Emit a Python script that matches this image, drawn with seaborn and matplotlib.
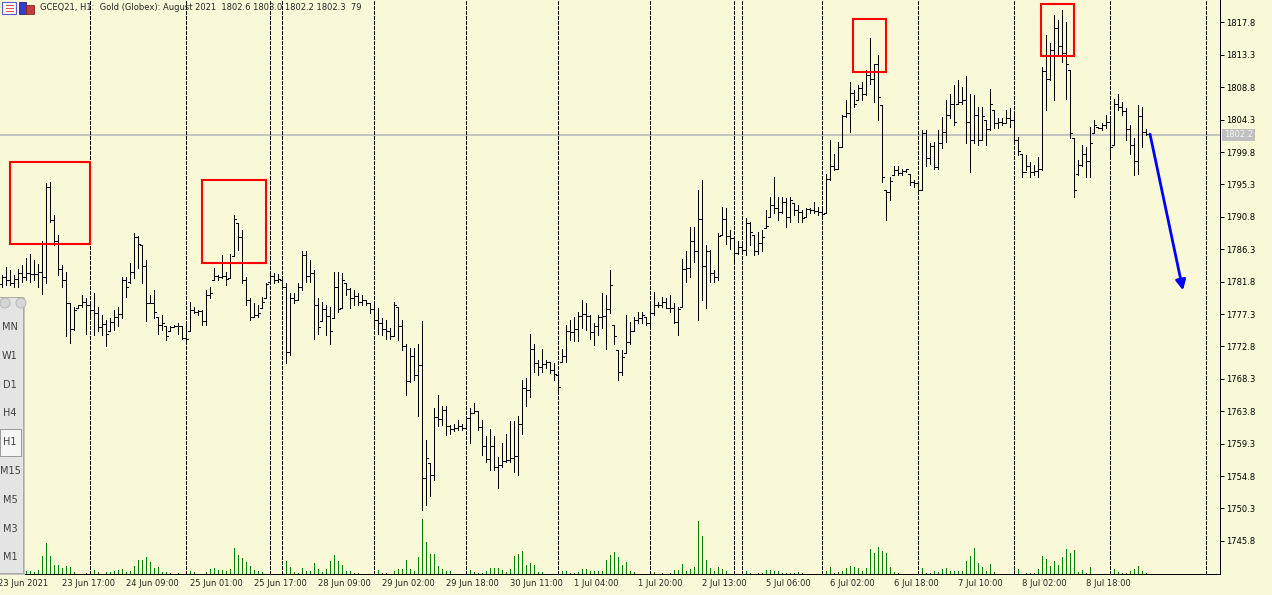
import numpy as np
import matplotlib
matplotlib.use("Agg")
import matplotlib.pyplot as plt
from matplotlib.patches import Rectangle, Ellipse
import seaborn as sns

# ---- GCEQ21 H1 bars, 23 Jun - 8 Jul 2021 ----
highs = [
    1782.7, 1783.9, 1783.4, 1782.7, 1783.5, 1784.1, 1785.1, 1785.7, 1784.8, 1784.3,
    1787.5, 1795.5, 1795.6, 1791.1, 1788.3, 1784.1, 1783.2, 1778.8, 1778.3, 1778.6,
    1780.0, 1779.5, 1779.0, 1780.2, 1778.3, 1777.2, 1776.5, 1776.7, 1777.9, 1778.3,
    1782.5, 1782.5, 1784.4, 1788.5, 1788.2, 1786.9, 1784.8, 1780.0, 1780.7, 1776.9,
    1777.2, 1775.6, 1775.6, 1775.8, 1776.0, 1775.6, 1776.0, 1779.0, 1778.3, 1777.9,
    1777.9, 1780.7, 1781.1, 1783.7, 1782.7, 1785.5, 1783.2, 1785.7, 1791.1, 1789.9,
    1789.0, 1782.5, 1779.5, 1778.8, 1778.6, 1779.7, 1781.6, 1783.0, 1783.0, 1782.9,
    1782.0, 1781.6, 1780.2, 1780.2, 1781.6, 1786.0, 1786.0, 1784.8, 1783.4, 1779.5,
    1779.0, 1778.6, 1778.3, 1783.2, 1783.2, 1783.0, 1781.6, 1780.9, 1780.7, 1780.2,
    1780.0, 1779.3, 1778.8, 1778.6, 1778.1, 1776.7, 1776.5, 1775.3, 1779.0, 1778.3,
    1776.5, 1773.2, 1772.6, 1772.6, 1773.2, 1776.3, 1759.8, 1756.6, 1764.2, 1766.1,
    1764.5, 1764.5, 1761.9, 1762.1, 1762.6, 1762.1, 1763.1, 1764.2, 1764.9, 1763.8,
    1762.6, 1760.3, 1761.4, 1760.3, 1757.5, 1759.4, 1760.7, 1762.4, 1762.4, 1763.1,
    1768.2, 1768.4, 1774.6, 1773.2, 1770.9, 1772.4, 1770.9, 1770.7, 1770.5, 1768.8,
    1772.5, 1775.8, 1776.5, 1776.9, 1777.6, 1779.3, 1778.8, 1777.2, 1776.0, 1777.2,
    1780.2, 1779.9, 1783.4, 1775.8, 1772.3, 1772.3, 1777.2, 1776.2, 1776.9, 1777.6,
    1777.6, 1776.9, 1779.0, 1780.4, 1779.0, 1779.7, 1779.5, 1780.0, 1778.8, 1778.3,
    1785.0, 1786.0, 1789.4, 1789.4, 1794.5, 1795.9, 1786.9, 1786.2, 1783.4, 1788.5,
    1792.2, 1792.0, 1789.0, 1787.8, 1787.4, 1786.9, 1790.6, 1790.1, 1788.3, 1788.7,
    1789.0, 1791.7, 1793.6, 1796.4, 1793.6, 1793.6, 1793.4, 1793.6, 1792.7, 1792.4,
    1791.7, 1792.0, 1792.0, 1792.9, 1792.2, 1792.0, 1796.8, 1801.5, 1799.6, 1801.2,
    1804.9, 1807.0, 1809.6, 1808.4, 1809.1, 1809.6, 1811.2, 1815.6, 1812.1, 1813.3,
    1806.3, 1794.5, 1796.4, 1797.8, 1797.8, 1797.5, 1797.5, 1796.8, 1795.9, 1795.7,
    1802.8, 1802.8, 1801.0, 1801.2, 1802.8, 1804.7, 1807.0, 1807.9, 1809.1, 1809.8,
    1808.9, 1810.3, 1807.9, 1807.7, 1806.1, 1806.1, 1804.2, 1808.6, 1805.6, 1804.5,
    1804.5, 1805.6, 1805.9, 1805.2, 1801.9, 1799.6, 1799.4, 1798.4, 1798.0, 1799.1,
    1811.6, 1816.0, 1814.9, 1818.8, 1818.1, 1819.5, 1817.9, 1811.2, 1801.7, 1798.7,
    1800.8, 1800.5, 1803.3, 1804.2, 1803.3, 1803.8, 1804.9, 1804.7, 1807.2, 1807.9,
    1806.8, 1805.9, 1803.5, 1801.7, 1806.3, 1806.1, 1803.0,
]
lows = [
    1781.1, 1781.4, 1781.4, 1781.0, 1781.1, 1781.8, 1782.0, 1781.8, 1782.0, 1781.0,
    1780.1, 1781.6, 1790.1, 1786.9, 1782.7, 1781.1, 1774.2, 1773.3, 1775.1, 1778.1,
    1778.3, 1774.6, 1776.9, 1774.4, 1774.9, 1774.4, 1772.8, 1774.9, 1775.1, 1775.6,
    1776.7, 1779.7, 1781.6, 1782.3, 1783.7, 1781.6, 1776.3, 1778.8, 1776.7, 1774.6,
    1775.1, 1773.7, 1774.9, 1775.5, 1774.6, 1773.9, 1773.5, 1774.9, 1777.4, 1777.2,
    1775.8, 1775.8, 1779.5, 1782.0, 1782.0, 1782.3, 1781.4, 1782.3, 1785.3, 1786.2,
    1781.6, 1778.6, 1776.5, 1776.9, 1776.9, 1778.1, 1779.5, 1781.8, 1781.6, 1781.8,
    1780.9, 1770.5, 1771.6, 1778.8, 1779.3, 1780.7, 1781.8, 1781.8, 1773.9, 1774.6,
    1776.3, 1774.4, 1773.2, 1776.7, 1777.6, 1778.1, 1780.0, 1778.1, 1778.6, 1778.6,
    1778.6, 1778.6, 1777.4, 1775.6, 1774.6, 1774.4, 1773.9, 1773.9, 1774.2, 1773.7,
    1772.3, 1766.1, 1767.9, 1768.2, 1763.1, 1750.1, 1750.8, 1752.0, 1754.3, 1761.7,
    1761.9, 1760.5, 1760.7, 1761.0, 1761.2, 1761.2, 1761.4, 1759.4, 1763.5, 1761.2,
    1757.7, 1756.8, 1755.7, 1755.7, 1753.1, 1756.1, 1756.8, 1756.8, 1755.4, 1755.0,
    1760.7, 1764.5, 1765.8, 1769.3, 1768.8, 1769.3, 1769.8, 1769.1, 1768.2, 1766.8,
    1770.7, 1770.7, 1773.7, 1773.5, 1773.5, 1775.3, 1775.1, 1773.9, 1773.0, 1774.4,
    1775.3, 1772.5, 1777.4, 1773.2, 1768.2, 1768.8, 1771.9, 1773.2, 1774.9, 1776.0,
    1776.0, 1775.8, 1775.8, 1777.2, 1778.3, 1778.3, 1778.1, 1777.6, 1776.0, 1774.4,
    1778.3, 1781.8, 1782.5, 1784.6, 1776.5, 1779.3, 1778.1, 1781.8, 1781.8, 1782.0,
    1788.3, 1787.1, 1786.4, 1784.8, 1785.7, 1786.0, 1785.5, 1786.9, 1785.5, 1785.7,
    1786.0, 1789.2, 1790.8, 1791.3, 1790.3, 1791.3, 1789.4, 1790.1, 1791.0, 1790.1,
    1790.1, 1790.8, 1791.3, 1791.3, 1791.0, 1790.8, 1791.3, 1795.9, 1797.3, 1797.5,
    1800.5, 1804.7, 1802.6, 1806.1, 1807.0, 1807.0, 1807.7, 1809.3, 1806.8, 1804.2,
    1795.7, 1790.3, 1793.1, 1796.6, 1796.6, 1796.6, 1797.1, 1795.2, 1795.0, 1794.3,
    1794.5, 1797.8, 1798.2, 1797.5, 1797.5, 1800.3, 1801.2, 1804.5, 1803.5, 1806.5,
    1806.5, 1801.0, 1797.1, 1801.0, 1800.8, 1801.5, 1800.8, 1802.8, 1803.1, 1803.1,
    1803.5, 1803.8, 1803.3, 1801.2, 1799.4, 1796.4, 1797.3, 1796.4, 1796.6, 1796.4,
    1797.3, 1805.6, 1809.8, 1807.0, 1813.3, 1812.3, 1807.2, 1801.7, 1793.6, 1796.6,
    1797.8, 1796.4, 1796.4, 1802.4, 1803.1, 1802.8, 1803.1, 1799.4, 1800.8, 1805.6,
    1804.9, 1801.5, 1799.6, 1796.6, 1796.8, 1800.5, 1802.2,
]
opens = [
    1781.5, 1782.4, 1782.0, 1781.6, 1782.2, 1783.0, 1782.4, 1783.0, 1782.9, 1782.9,
    1783.2, 1782.5, 1795.0, 1790.4, 1787.5, 1783.6, 1782.0, 1778.8, 1775.2, 1778.1,
    1778.5, 1779.0, 1778.6, 1777.9, 1777.5, 1775.5, 1775.9, 1774.9, 1776.2, 1776.9,
    1777.3, 1782.0, 1781.7, 1783.2, 1788.0, 1786.9, 1784.0, 1778.8, 1778.9, 1776.9,
    1775.8, 1775.6, 1774.9, 1775.5, 1775.6, 1775.6, 1774.0, 1775.0, 1777.8, 1777.6,
    1777.7, 1776.3, 1780.0, 1782.0, 1782.6, 1782.5, 1782.6, 1782.3, 1785.3, 1789.9,
    1788.0, 1782.0, 1779.3, 1776.9, 1777.2, 1778.1, 1779.5, 1781.8, 1782.6, 1782.0,
    1782.0, 1781.0, 1772.0, 1779.5, 1779.3, 1781.0, 1785.5, 1782.6, 1783.0, 1778.5,
    1776.3, 1778.0, 1777.0, 1776.7, 1781.0, 1778.1, 1781.6, 1780.8, 1779.5, 1779.8,
    1779.0, 1779.3, 1778.8, 1778.0, 1776.5, 1776.0, 1775.2, 1775.0, 1774.3, 1778.3,
    1775.6, 1772.9, 1768.0, 1771.5, 1768.9, 1770.2, 1754.6, 1756.6, 1755.0, 1763.0,
    1762.7, 1764.0, 1761.8, 1761.3, 1761.5, 1761.8, 1761.5, 1762.8, 1763.6, 1763.8,
    1761.6, 1759.0, 1757.2, 1759.0, 1756.0, 1756.3, 1756.9, 1757.0, 1757.3, 1757.6,
    1762.0, 1767.0, 1766.8, 1772.5, 1770.5, 1770.0, 1770.3, 1770.6, 1769.5, 1768.8,
    1770.7, 1771.5, 1775.0, 1774.8, 1775.2, 1777.0, 1777.3, 1777.0, 1774.8, 1775.6,
    1776.9, 1777.0, 1778.0, 1775.8, 1772.3, 1769.2, 1771.9, 1773.4, 1774.9, 1776.5,
    1776.8, 1776.9, 1776.0, 1777.5, 1778.6, 1778.5, 1779.0, 1778.2, 1778.2, 1776.2,
    1778.3, 1783.6, 1783.7, 1787.5, 1786.0, 1790.5, 1784.0, 1786.0, 1783.0, 1782.4,
    1788.3, 1790.5, 1788.2, 1787.8, 1785.8, 1786.6, 1786.2, 1790.0, 1788.3, 1786.0,
    1787.2, 1789.2, 1790.8, 1792.5, 1792.0, 1791.5, 1792.8, 1790.8, 1792.7, 1791.8,
    1791.5, 1790.8, 1791.9, 1791.7, 1791.6, 1791.5, 1791.3, 1796.0, 1797.8, 1797.5,
    1800.5, 1804.8, 1805.2, 1808.0, 1807.0, 1808.7, 1807.8, 1810.5, 1810.0, 1812.0,
    1806.3, 1794.5, 1794.3, 1796.6, 1797.3, 1796.9, 1797.2, 1796.8, 1795.6, 1795.5,
    1794.6, 1802.5, 1799.0, 1800.6, 1797.7, 1801.0, 1802.6, 1805.0, 1806.5, 1806.5,
    1806.8, 1807.0, 1804.0, 1801.5, 1805.0, 1801.5, 1804.2, 1803.0, 1805.6, 1803.8,
    1804.0, 1803.9, 1804.5, 1804.2, 1801.5, 1799.6, 1797.0, 1797.8, 1797.0, 1797.2,
    1797.5, 1811.0, 1810.0, 1814.0, 1817.0, 1814.5, 1813.5, 1811.2, 1801.7, 1796.8,
    1798.0, 1799.5, 1798.5, 1802.4, 1803.3, 1803.2, 1803.5, 1804.0, 1800.8, 1806.5,
    1806.0, 1805.5, 1803.0, 1800.8, 1798.5, 1804.8, 1802.6,
]
closes = [
    1782.4, 1782.0, 1781.6, 1782.2, 1783.0, 1782.4, 1783.0, 1782.9, 1782.9, 1783.2,
    1782.5, 1795.0, 1790.4, 1787.5, 1783.6, 1782.0, 1778.8, 1775.2, 1777.8, 1778.5,
    1779.0, 1778.6, 1777.9, 1777.5, 1775.5, 1775.9, 1774.6, 1776.2, 1776.9, 1777.3,
    1782.0, 1781.0, 1783.2, 1788.0, 1787.0, 1784.0, 1778.8, 1778.9, 1777.6, 1775.8,
    1776.0, 1774.2, 1775.5, 1775.6, 1775.6, 1774.0, 1773.8, 1777.8, 1777.6, 1777.7,
    1776.3, 1780.0, 1780.2, 1782.6, 1782.5, 1782.6, 1782.2, 1784.5, 1790.5, 1788.0,
    1782.0, 1779.3, 1776.9, 1777.2, 1777.5, 1779.0, 1781.5, 1782.6, 1782.0, 1782.2,
    1781.0, 1772.0, 1779.5, 1779.2, 1781.0, 1785.5, 1782.6, 1783.0, 1778.5, 1775.5,
    1778.0, 1777.0, 1775.0, 1781.0, 1778.0, 1782.0, 1780.8, 1779.5, 1779.8, 1779.0,
    1779.3, 1778.9, 1778.0, 1776.5, 1776.0, 1775.2, 1775.0, 1774.3, 1778.5, 1775.6,
    1772.9, 1768.0, 1771.5, 1768.9, 1770.2, 1754.6, 1757.3, 1755.0, 1763.0, 1762.7,
    1764.0, 1761.8, 1761.3, 1761.5, 1761.8, 1761.5, 1762.8, 1763.6, 1763.8, 1761.6,
    1759.0, 1757.2, 1759.0, 1756.0, 1756.3, 1756.9, 1757.0, 1757.3, 1757.6, 1762.0,
    1767.0, 1766.8, 1772.5, 1770.5, 1770.0, 1770.3, 1770.6, 1769.5, 1769.0, 1767.2,
    1771.5, 1775.0, 1774.8, 1775.2, 1777.0, 1777.3, 1777.0, 1774.8, 1775.6, 1776.9,
    1777.0, 1778.0, 1781.4, 1774.2, 1769.2, 1771.3, 1773.4, 1774.9, 1776.5, 1776.8,
    1777.2, 1776.0, 1777.5, 1778.6, 1778.5, 1779.0, 1778.2, 1778.2, 1776.2, 1778.0,
    1783.6, 1783.7, 1787.5, 1786.0, 1790.5, 1784.0, 1786.0, 1783.0, 1782.4, 1788.2,
    1790.5, 1788.2, 1787.8, 1785.8, 1786.6, 1786.2, 1790.0, 1788.7, 1786.0, 1787.2,
    1788.0, 1789.5, 1792.5, 1792.0, 1791.5, 1792.8, 1790.8, 1793.2, 1791.8, 1791.5,
    1790.6, 1791.9, 1791.7, 1791.6, 1791.5, 1791.2, 1796.0, 1797.8, 1797.5, 1800.5,
    1804.8, 1805.2, 1808.0, 1806.5, 1808.7, 1807.8, 1810.5, 1810.0, 1812.0, 1807.5,
    1796.3, 1794.3, 1795.8, 1797.3, 1796.9, 1797.2, 1797.5, 1795.6, 1795.5, 1794.6,
    1802.5, 1799.0, 1800.6, 1797.7, 1801.0, 1802.6, 1805.0, 1806.5, 1804.0, 1806.8,
    1807.0, 1804.0, 1801.5, 1805.0, 1801.5, 1804.8, 1803.0, 1806.5, 1803.8, 1804.0,
    1803.9, 1804.5, 1804.2, 1801.5, 1800.0, 1797.0, 1797.8, 1797.0, 1797.2, 1797.5,
    1811.0, 1810.0, 1814.0, 1817.0, 1814.5, 1813.5, 1812.0, 1802.5, 1794.5, 1798.0,
    1799.5, 1798.5, 1801.0, 1803.5, 1803.2, 1803.5, 1804.0, 1800.5, 1806.5, 1806.0,
    1805.5, 1803.0, 1800.8, 1798.5, 1804.8, 1802.6, 1802.3,
]
volumes = [
    2, 2, 1, 2, 2, 4, 3, 3, 2, 4,
    18, 31, 18, 9, 9, 6, 8, 7, 2, 0,
    0, 1, 3, 4, 2, 0, 2, 2, 3, 4,
    5, 2, 3, 8, 14, 14, 17, 12, 6, 7,
    2, 2, 1, 0, 1, 0, 0, 3, 2, 0,
    0, 2, 5, 6, 4, 4, 3, 5, 26, 19,
    16, 12, 8, 4, 3, 2, 0, 0, 0, 0,
    0, 13, 7, 2, 1, 6, 3, 3, 11, 5,
    2, 5, 13, 19, 13, 9, 3, 3, 1, 1,
    0, 0, 0, 0, 4, 1, 1, 0, 3, 5,
    5, 14, 5, 3, 17, 55, 32, 20, 20, 8,
    5, 3, 3, 0, 0, 0, 0, 4, 2, 1,
    1, 3, 6, 6, 6, 4, 2, 5, 18, 20,
    23, 9, 11, 9, 2, 2, 0, 0, 0, 0,
    3, 3, 1, 1, 2, 5, 5, 3, 3, 3,
    3, 14, 19, 22, 17, 9, 12, 3, 2, 0,
    0, 0, 0, 2, 0, 1, 0, 1, 4, 4,
    10, 3, 5, 7, 53, 38, 14, 6, 3, 7,
    5, 3, 0, 0, 0, 0, 3, 1, 0, 1,
    1, 4, 4, 3, 3, 1, 1, 1, 1, 2,
    1, 0, 0, 0, 0, 0, 3, 7, 1, 2,
    3, 6, 8, 7, 6, 3, 6, 25, 21, 27,
    23, 21, 7, 2, 1, 0, 0, 0, 0, 0,
    6, 1, 1, 3, 2, 5, 6, 3, 3, 3,
    3, 13, 18, 26, 11, 7, 3, 10, 2, 0,
    0, 0, 0, 4, 5, 0, 1, 1, 1, 5,
    18, 15, 8, 13, 9, 17, 25, 21, 24, 2,
    4, 1, 7, 0, 0, 0, 0, 0, 5, 2,
    1, 1, 3, 5, 8, 3, 1,
]
assert len(highs) == len(lows) == len(opens) == len(closes) == len(volumes) == 287

# period separators (first bar of each trading day)
day_starts = [22, 46, 67, 70, 93, 116, 139, 162, 183, 185, 205, 229, 253, 277, 301]

time_label_bars = [0, 16, 32, 48, 64, 80, 96, 112, 128, 144, 160, 176,
                   192, 208, 224, 240, 256, 272]
time_labels = ["23 Jun 2021", "23 Jun 17:00", "24 Jun 09:00", "25 Jun 01:00",
               "25 Jun 17:00", "28 Jun 09:00", "29 Jun 02:00", "29 Jun 18:00",
               "30 Jun 11:00", "1 Jul 04:00", "1 Jul 20:00", "2 Jul 13:00",
               "5 Jul 06:00", "6 Jul 02:00", "6 Jul 18:00", "7 Jul 10:00",
               "8 Jul 02:00", "8 Jul 18:00"]

price_ticks = [1817.8, 1813.3, 1808.8, 1804.3, 1799.8, 1795.3, 1790.8, 1786.3,
               1781.8, 1777.3, 1772.8, 1768.3, 1763.8, 1759.3, 1754.8, 1750.3, 1745.8]
last_price = 1802.2

# red boxes drawn on the chart: (first bar, last bar, low price, high price)
marked_boxes = [(2, 22, 1787.0, 1798.4),
                (50, 66, 1784.4, 1795.9),
                (212.75, 221, 1810.9, 1818.3),
                (259.75, 268, 1813.1, 1820.4)]
arrow_start = (287, 1802.3)
arrow_end = (295.25, 1780.6)

timeframes = ["MN", "W1", "D1", "H4", "H1", "M15", "M5", "M3", "M1"]
header = "GCEQ21, H1:  Gold (Globex): August 2021  1802.6 1803.0 1802.2 1802.3  79"

# ---- style ----
BG = "#f9f9d8"
sns.set_style("white", {"axes.facecolor": BG, "figure.facecolor": BG})
plt.rcParams["font.family"] = ["DejaVu Sans"]
plt.rcParams["lines.scale_dashes"] = False
FS = 6.0
PX = 0.72  # one pixel in points at dpi 100

W, H = 1272, 595
fig = plt.figure(figsize=(W / 100, H / 100), dpi=100)
ax = fig.add_axes([0, 21 / H, 1220 / W, 574 / H])
axv = ax.twinx()

idx = np.arange(len(highs))

# volumes along the bottom of the main window
axv.vlines(idx, 0, volumes, color="#008000", lw=PX, antialiased=False)
axv.set_ylim(0, 574)
axv.axis("off")
ax.set_zorder(axv.get_zorder() + 1)
ax.patch.set_visible(False)

# bid line, separators, OHLC bars
ax.axhline(last_price, color="#c0c0c0", lw=1.3, zorder=1)
for d in day_starts:
    ax.axvline(d, color="black", lw=PX, dashes=(2.2, 1.4), zorder=1.5, antialiased=False)
ax.vlines(idx, lows, highs, color="black", lw=PX, antialiased=False, zorder=3)
ax.hlines(opens, idx - 0.5, idx, color="black", lw=PX, antialiased=False, zorder=3)
ax.hlines(closes, idx, idx + 0.5, color="black", lw=PX, antialiased=False, zorder=3)

for x0, x1, y0, y1 in marked_boxes:
    ax.add_patch(Rectangle((x0, y0), x1 - x0, y1 - y0, fill=False,
                           ec="#ff0000", lw=1.5, zorder=4))
ax.annotate("", xy=arrow_end, xytext=arrow_start, zorder=5,
            arrowprops=dict(arrowstyle="-|>,head_length=0.6,head_width=0.3",
                            color="#0000ff", lw=2, shrinkA=0, shrinkB=0))

ax.set_xlim(-0.5, 304.5)
ax.set_ylim(1741.2, 1820.925)

sns.despine(ax=ax, top=True, left=True, right=False, bottom=False)
for s in ("right", "bottom"):
    ax.spines[s].set_color("black")
    ax.spines[s].set_linewidth(PX)
ax.yaxis.tick_right()
ax.set_yticks(price_ticks)
ax.set_yticklabels([f"{p:.1f}" for p in price_ticks])
ax.tick_params(axis="y", direction="out", length=3, width=PX, pad=1.5,
               labelsize=FS, colors="black")
ax.set_xticks([])

for b, t in zip(time_label_bars, time_labels):
    ax.text(b - 1.1, -9 / 574, t, transform=ax.get_xaxis_transform(),
            ha="left", va="center", fontsize=FS, clip_on=False)

ax.text(1 + 4 / 1220, last_price, f"{last_price:.1f}", transform=ax.get_yaxis_transform(),
        ha="left", va="center", fontsize=FS, color="#f4f4f4", clip_on=False,
        bbox=dict(boxstyle="square,pad=0.2", fc="#c0c0c0", ec="none"))

# ---- window decorations ----
def px_rect(x0, y0, x1, y1, **kw):
    r = Rectangle((x0 / W, 1 - y1 / H), (x1 - x0) / W, (y1 - y0) / H,
                  transform=fig.transFigure, **kw)
    fig.add_artist(r)
    return r

fig.text(40 / W, 1 - 8 / H, header, ha="left", va="center", fontsize=FS, zorder=11)

px_rect(2, 2, 16, 14, fc="white", ec="#5a5ad8", lw=0.8, zorder=10)
for yy in (5, 8, 11):
    px_rect(6, yy, 14, yy + 1.3, fc="#e05050", ec="none", zorder=11)
px_rect(19, 2, 26, 14, fc="#3a3ac8", ec="#20208a", lw=0.6, zorder=10)
px_rect(26, 5, 34, 14, fc="#c83a3a", ec="#8a2020", lw=0.6, zorder=10)

# timeframe toolbar floating over the left edge
px_rect(0, 298, 25, 575, fc="#c4c4c4", ec="none", zorder=10)
px_rect(-2, 297, 23, 573, fc="#e4e4e4", ec="#a8a8a8", lw=0.7, zorder=10)
for cx in (5, 21):
    fig.add_artist(Ellipse((cx / W, 1 - 303 / H), 10 / W, 10 / H, transform=fig.transFigure,
                           fc="#d6d6d6", ec="#b0b0b0", lw=0.6, zorder=10.5))
px_rect(0, 429, 21, 456, fc="#f6f6f6", ec="#9a9a9a", lw=0.7, zorder=10.5)
for k, t in enumerate(timeframes):
    fig.text(10 / W, 1 - (327 + 28.8 * k) / H, t, ha="center", va="center",
             fontsize=7, color="#404040", zorder=11)

fig.savefig("out.png", dpi=100, facecolor=BG)
